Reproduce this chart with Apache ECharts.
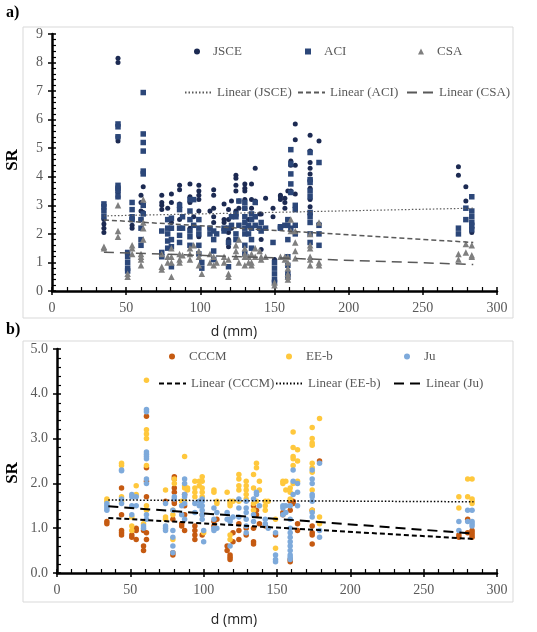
<!DOCTYPE html>
<html>
<head>
<meta charset="utf-8">
<script src="https://cdn.jsdelivr.net/npm/echarts@6/dist/echarts.min.js"></script>
<style>
  html, body { margin: 0; padding: 0; background: #fff; }
  #chart { width: 537px; height: 632px; }
</style>
</head>
<body>
<div id="chart"></div>
<script>
// panel a) data : [d (mm), SR]
const jsce = [
  [35,2.05],[35,2.2],[35,2.35],[35,2.5],
  [44.5,8.15],[44.5,8.0],[44.5,5.4],[44.5,5.25],[44.5,3.6],[44.5,3.45],[44.5,3.3],
  [51,1.3],[54,2.5],[54,2.3],[54,2.2],
  [60,3.35],[60,3.1],[60,2.8],[60,2.5],[61.5,3.65],[61.5,2.75],
  [74,3.35],[74,3.1],[74,3.0],[74,2.85],[78,2.9],[78,2.5],
  [80.5,3.4],[80.5,3.1],[80.5,2.4],[80.5,2.2],
  [86,3.7],[86,3.55],[86,3.05],[86,2.5],
  [93,3.75],[93,3.3],[93,3.1],[93,2.2],[95.5,2.6],
  [99,3.7],[99,3.5],[99,3.35],[99,3.2],[99,2.8],[99,1.9],
  [106.5,2.8],[106.5,2.2],
  [109,3.55],[109,3.35],[109,2.9],[109,2.6],[109,2.4],
  [116,3.05],[116,2.5],[116,2.4],
  [119,2.85],[119,2.5],[119,2.05],[119,1.8],[119,1.55],[121,3.15],[121,2.2],
  [124,4.05],[124,3.95],[124,3.7],[124,3.5],[124,2.8],[126,3.15],[126,2.9],
  [130,3.75],[130,3.6],[130,3.5],[130,3.2],[130,2.9],[132.5,2.5],
  [134.5,3.75],[134.5,3.2],[134.5,2.9],[137,4.3],[137,3.15],
  [140,2.7],[141,2.7],[141,1.8],[141,1.45],[144,3.25],
  [149,2.9],[149,2.6],[150,1.1],
  [154,3.35],[154,3.3],[154,3.2],[157,3.25],[157,3.1],[157,2.9],
  [159,3.5],[159,2.5],[161,4.55],[161,4.4],[161,3.5],[161,3.45],
  [164,5.85],[164,5.3],[164,4.4],[164,3.4],
  [174,5.45],[174,4.9],[174,4.5],[174,4.3],[174,4.1],[174,3.9],[174,3.6],[174,3.2],[174,2.95],[174,2.7],
  [180,5.25],[180,2.35],
  [274,4.35],[274,4.05],[279,3.65],[279,3.15],[283,2.2],[283,2.05]
];
const aci = [
  [35,2.6],[35,2.8],[35,2.95],[35,3.05],
  [44.5,5.85],[44.5,5.75],[44.5,5.4],[44.5,3.7],[44.5,3.6],[44.5,3.5],[44.5,3.3],
  [51,1.35],[51,1.2],[51,1.0],[51,0.8],[51,0.7],
  [54,3.1],[54,2.85],[54,2.6],[54,2.5],
  [60,2.5],[60,2.2],[60,1.8],[60,1.6],
  [61.5,6.95],[61.5,5.5],[61.5,5.2],[61.5,4.9],[61.5,4.2],[61.5,4.1],[61.5,3.0],[61.5,2.7],
  [74,2.1],[74,1.35],[74,1.2],
  [78,2.5],[78,2.2],[78,2.0],[78,1.75],[78,1.5],
  [80.5,2.55],[80.5,2.2],[80.5,1.8],[80.5,1.55],[80.5,0.85],
  [86,3.0],[86,2.85],[86,2.2],[86,1.95],[86,1.7],[88,2.6],[88,2.2],
  [93,3.2],[93,2.8],[93,2.5],[93,2.1],[93,1.9],[93,1.6],[95.5,3.2],[95.5,2.3],
  [99,2.5],[99,2.2],[99,2.0],[99,1.6],[99,1.3],[101,1.0],[101,0.8],
  [106.5,2.2],[106.5,2.0],
  [109,2.1],[109,1.8],[109,1.4],[109,1.1],[111,2.0],
  [116,2.2],[116,2.1],[119,2.2],[119,1.7],[119,0.85],[121,2.6],[121,2.3],
  [124,2.7],[124,2.6],[124,2.0],[124,1.8],[126,3.15],[126,2.3],
  [130,3.1],[130,2.9],[130,2.6],[130,2.4],[130,2.2],[130,2.0],[130,1.6],[130,1.3],
  [132.5,2.3],[132.5,2.0],
  [134.5,2.7],[134.5,2.5],[134.5,2.2],[134.5,1.8],[134.5,1.5],
  [137,3.1],[137,2.6],[137,2.3],[140,2.2],[141,2.4],[141,2.1],[144,2.2],
  [149,1.7],[150,1.0],[150,0.8],[150,0.6],[150,0.4],[150,0.3],
  [154,2.25],[154,2.2],[157,2.3],
  [159,2.5],[159,2.3],[159,1.8],[159,1.2],[159,0.9],[159,0.6],[159,0.5],
  [161,4.95],[161,4.45],[161,4.1],[161,3.75],[161,3.45],[161,2.2],
  [164,3.0],[164,2.85],[164,2.3],[164,2.0],
  [174,4.85],[174,3.9],[174,3.8],[174,3.5],[174,3.3],[174,2.75],[174,2.6],[174,2.4],[174,2.0],[174,1.7],
  [180,4.5],[180,2.3],[180,2.0],[180,1.6],
  [274,2.2],[274,2.0],[279,2.9],[279,2.5],
  [283,3.3],[283,2.8],[283,2.6],[283,2.4],[283,2.3],[283,2.15]
];
const csa = [
  [35,1.5],[35,1.55],[44.5,3.0],[44.5,2.1],[44.5,1.9],
  [51,0.6],[51,0.5],[54,1.6],[54,1.5],[54,1.3],
  [60,1.3],[60,1.2],[60,1.1],[60,0.9],[61.5,3.2],[61.5,2.4],[61.5,2.2],[61.5,1.8],
  [74,1.3],[74,0.85],[74,0.75],[78,1.0],[78,1.2],
  [80.5,1.5],[80.5,1.2],[80.5,1.0],[80.5,0.5],
  [86,1.3],[86,1.1],[86,1.0],[88,1.25],
  [93,1.5],[93,1.3],[93,1.1],[95.5,1.6],
  [99,1.4],[99,1.2],[99,0.9],[101,0.6],
  [106.5,1.3],[106.5,1.0],[109,1.2],[109,0.9],[111,1.0],
  [116,1.2],[116,1.0],[119,1.1],[119,0.6],[119,0.5],
  [124,1.6],[124,1.4],[124,1.2],[126,1.8],[126,1.0],
  [130,1.5],[130,1.3],[130,1.2],[130,0.9],[132.5,1.2],[132.5,1.0],
  [134.5,1.3],[134.5,1.0],[134.5,0.9],[137,1.5],[137,1.2],
  [140,1.4],[141,1.2],[141,1.1],[144,1.2],
  [150,0.3],[150,0.2],[154,1.2],[157,1.2],[157,1.1],
  [159,1.2],[159,1.0],[159,0.8],[159,0.6],[159,0.5],[159,0.4],
  [161,2.5],[161,2.1],[164,2.1],[164,1.7],[164,1.4],[164,1.15],
  [174,2.0],[174,1.6],[174,1.5],[174,1.2],[174,1.1],[174,0.9],
  [180,2.4],[180,1.0],[180,0.9],
  [274,1.3],[274,1.1],[279,1.65],[279,1.35],[283,1.6],[283,1.25],[283,1.2]
];
// trend line end points
const trendX = [35, 284];
const trendJSCE = [2.63, 2.9];
const trendACI = [2.49, 1.7];
const trendCSA = [1.36, 0.93];

// panel b) data : [d (mm), SR]
const cccm = [
  [34,1.15],[34,1.1],[44,1.9],[44,1.3],[44,0.95],[44,0.9],[44,0.85],
  [51,0.85],[51,0.8],[54,1.0],[54,0.95],[54,0.75],
  [59,0.6],[59,0.5],[59,0.95],
  [61,3.5],[61,2.35],[61,2.05],[61,1.7],[61,0.9],[61,0.75],
  [74,1.6],[79,0.4],[79,0.45],[79,1.2],
  [80,2.15],[80,2.1],[80,1.9],[80,1.8],[80,1.6],[80,1.55],
  [85,1.05],[85,1.1],[87,1.75],[87,1.5],[87,1.3],[87,0.95],
  [94,1.05],[94,0.95],[94,0.85],[94,0.75],[99,1.3],[99,0.85],
  [107,1.15],[107,1.05],[109,1.2],
  [116,0.6],[116,0.5],[118,0.4],[118,0.3],[118,0.35],[120,0.9],[120,0.7],
  [124,1.1],[124,0.95],[124,0.75],[129,1.0],[129,0.85],
  [134,1.5],[134,1.0],[134,0.7],[134,0.65],[136,1.4],[136,1.3],[138,1.1],[142,1.05],
  [149,0.85],[154,1.35],[154,1.3],
  [159,0.25],[159,0.3],[159,1.6],[159,1.4],[161,1.6],[161,1.55],[164,1.1],[164,0.95],
  [174,1.05],[174,0.9],[174,0.85],[174,0.65],[174,1.4],[179,2.5],
  [274,0.85],[274,0.8],[280,1.2],[280,0.9],[283,0.95],[283,0.9],[283,0.85],[283,0.8]
];
const eeb = [
  [34,1.65],[34,1.6],[44,2.45],[44,2.4],[44,1.7],[44,1.6],
  [51,1.25],[51,1.05],[51,0.95],[54,1.95],[54,1.75],[59,1.1],
  [61,4.3],[61,3.2],[61,3.1],[61,3.0],[61,2.4],[61,1.5],[61,1.4],
  [74,1.85],[74,1.25],[74,1.2],[79,1.3],[79,1.4],[79,0.75],[80,2.1],[80,2.0],
  [85,1.6],[87,2.6],[87,1.95],[87,1.9],[87,1.6],[89,1.9],[89,1.85],
  [94,2.05],[94,1.9],[94,1.8],[94,1.7],[97,2.05],[97,1.95],
  [99,2.15],[99,2.05],[99,1.9],[99,1.8],[99,1.7],[100,0.9],
  [107,1.85],[107,1.8],[109,1.6],[109,1.55],[116,1.8],
  [118,1.6],[118,1.55],[118,1.5],[118,0.85],[118,0.75],[120,1.6],
  [124,2.2],[124,2.1],[124,1.95],[124,1.85],[124,1.6],
  [129,2.05],[129,1.95],[129,1.85],[129,1.75],[129,1.65],
  [134,2.2],[134,1.9],[134,1.55],[134,1.4],[136,2.45],[136,2.35],[136,1.6],
  [138,2.05],[138,1.85],[142,1.6],[142,1.5],[142,1.4],[144,1.6],
  [149,0.55],[149,1.2],[154,2.05],[154,2.0],[156,2.05],[156,1.85],
  [159,1.9],[159,1.8],[159,1.65],
  [161,3.15],[161,2.8],[161,2.6],[161,2.55],[161,2.4],[161,2.0],
  [164,2.75],[164,2.5],[164,2.05],
  [174,3.25],[174,3.0],[174,2.9],[174,2.85],[174,2.45],[174,2.35],[174,2.25],[174,1.85],[174,1.4],
  [179,3.45],[179,1.25],[179,1.1],
  [274,1.7],[274,1.45],[280,2.1],[280,1.7],[283,2.1],[283,1.65],[283,1.6],[283,1.55]
];
const ju = [
  [34,1.55],[34,1.5],[34,1.45],[34,1.4],[44,2.3],[44,2.28],[44,1.65],[44,1.55],
  [51,1.75],[51,1.7],[51,1.5],[51,1.3],[54,1.7],[54,1.5],[59,1.05],[59,1.0],
  [61,3.65],[61,3.6],[61,2.7],[61,2.65],[61,2.6],[61,2.55],[61,2.1],[61,2.0],[61,1.3],[61,1.2],
  [74,1.55],[74,1.05],[74,1.0],[74,0.95],
  [79,1.4],[79,0.95],[79,0.8],[79,0.6],[79,0.45],[80,1.7],[80,1.65],
  [85,1.5],[85,1.3],[87,2.1],[87,2.0],[87,1.75],[87,1.7],[87,1.55],[87,1.2],
  [94,1.55],[94,1.35],[97,1.6],[97,1.5],
  [99,1.65],[99,1.6],[99,1.5],[99,1.4],[99,1.3],[99,1.2],[100,0.95],[100,0.7],
  [107,1.45],[107,1.2],[107,1.0],[107,0.95],[109,1.35],[109,1.0],
  [116,1.35],[116,1.2],[118,1.2],[118,1.15],[118,0.6],[120,1.25],
  [124,1.65],[124,1.45],[124,1.25],
  [129,1.6],[129,1.45],[129,1.35],[129,1.2],[129,1.05],[129,0.9],
  [134,1.65],[134,1.3],[134,1.15],[136,1.8],[136,1.75],[138,1.5],
  [142,1.2],[142,1.1],[144,1.0],
  [149,0.9],[149,0.4],[149,0.3],[149,0.25],[154,1.5],[154,1.45],[154,1.3],[156,1.5],[156,1.35],
  [159,1.5],[159,1.2],[159,1.0],[159,0.9],[159,0.8],[159,0.7],[159,0.6],[159,0.5],[159,0.4],[159,0.35],[159,0.3],
  [161,2.3],[161,2.05],[161,1.75],[164,2.0],[164,1.8],[164,1.5],
  [174,2.3],[174,2.1],[174,2.0],[174,1.75],[174,1.7],[174,1.6],[174,1.35],[174,1.25],
  [179,2.45],[179,0.95],[179,0.8],
  [274,1.15],[274,0.95],[280,1.4],[280,1.15],[283,1.4],[283,1.15],[283,1.1],[283,1.05]
];
const trendCCCM = [1.23, 0.76];
const trendEEb = [1.63, 1.59];
const trendJu = [1.49, 0.88];

const serif = 'Liberation Serif';
const tickGray = '#595959';

function pairs(xs, ys) {
  return xs.map((x, i) => [x, ys[i]]);
}

// two axes per direction so major ticks cross and minor ticks sit inside
function xAxes(grid) {
  return [
    {
      gridIndex: grid, type: 'value', min: 0, max: 300, interval: 50,
      axisLine: { show: true, lineStyle: { color: '#000', width: 2.5 } },
      axisTick: { show: true, length: 4, lineStyle: { color: '#000', width: 1.5 } },
      axisLabel: { margin: 10, color: tickGray, fontFamily: serif, fontSize: 14 },
      splitLine: { show: false }
    },
    {
      gridIndex: grid, type: 'value', min: 0, max: 300, interval: 50, position: 'bottom',
      axisLine: { show: false },
      axisTick: { show: true, inside: true, length: 4, lineStyle: { color: '#000', width: 1.5 } },
      minorTick: { show: true, splitNumber: 5, length: 4, lineStyle: { color: '#000', width: 1.2 } },
      axisLabel: { show: false },
      splitLine: { show: false }
    }
  ];
}
function yAxes(grid, max, interval, fmt) {
  return [
    {
      gridIndex: grid, type: 'value', min: 0, max: max, interval: interval,
      axisLine: { show: true, lineStyle: { color: '#000', width: 2.5 } },
      axisTick: { show: true, length: 4, lineStyle: { color: '#000', width: 1.5 } },
      axisLabel: { margin: 9, color: tickGray, fontFamily: serif, fontSize: 14, formatter: fmt },
      splitLine: { show: false }
    },
    {
      gridIndex: grid, type: 'value', min: 0, max: max, interval: interval, position: 'left',
      axisLine: { show: false },
      axisTick: { show: true, inside: true, length: 4, lineStyle: { color: '#000', width: 1.5 } },
      minorTick: { show: true, splitNumber: 5, length: 4, lineStyle: { color: '#000', width: 1.2 } },
      axisLabel: { show: false },
      splitLine: { show: false }
    }
  ];
}

function scatter(name, data, axis, symbol, size, color) {
  return {
    name: name, type: 'scatter', xAxisIndex: axis, yAxisIndex: axis,
    data: data, symbol: symbol, symbolSize: size,
    itemStyle: { color: color, opacity: 1 },
    emphasis: { disabled: true }, animation: false
  };
}
function trend(name, ys, axis, color, width, dash) {
  return {
    name: name, type: 'line', xAxisIndex: axis, yAxisIndex: axis,
    data: pairs(trendX, ys), symbol: 'none', z: 5,
    lineStyle: { color: color, width: width, type: dash },
    emphasis: { disabled: true }, animation: false
  };
}

function legendItem(name, left, top, isLine, padLeft) {
  return {
    data: [name], left: left, top: top, padding: 0, itemGap: 0,
    itemWidth: isLine ? 27 : 6, itemHeight: isLine ? 8 : 6,
    selectedMode: false,
    itemStyle: isLine ? { opacity: 0 } : {},
    textStyle: { color: tickGray, fontFamily: serif, fontSize: 13, padding: [0, 0, 0, padLeft] }
  };
}

const chart = echarts.init(document.getElementById('chart'), null, { renderer: 'canvas' });

const option = {
  backgroundColor: '#fff',
  animation: false,
  grid: [
    { left: 52, top: 34, width: 445, height: 257 },
    { left: 57, top: 349, width: 440, height: 224 }
  ],
  xAxis: [...xAxes(0), ...xAxes(1)],
  yAxis: [
    ...yAxes(0, 9, 1, v => String(v)),
    ...yAxes(1, 5, 1, v => v.toFixed(1))
  ],
  legend: [
    legendItem('JSCE', 194, 45, false, 8),
    legendItem('ACI', 305, 45, false, 8),
    legendItem('CSA', 418, 45, false, 8),
    legendItem('Linear (JSCE)', 184, 86, true, 0),
    legendItem('Linear (ACI)', 297, 86, true, 0),
    legendItem('Linear (CSA)', 406, 86, true, 0),
    legendItem('CCCM', 169, 350, false, 9),
    legendItem('EE-b', 286, 350, false, 9),
    legendItem('Ju', 404, 350, false, 9),
    legendItem('Linear (CCCM)', 158, 377, true, 0),
    legendItem('Linear (EE-b)', 275, 377, true, 0),
    legendItem('Linear (Ju)', 393, 377, true, 0)
  ],
  series: [
    scatter('JSCE', jsce, 0, 'circle', 5, '#1c2a52'),
    scatter('ACI', aci, 0, 'rect', 5.5, '#2c4779'),
    scatter('CSA', csa, 0, 'triangle', 6.5, '#7f7f7f'),
    trend('Linear (JSCE)', trendJSCE, 0, '#595959', 1.2, [1.5, 2]),
    trend('Linear (ACI)', trendACI, 0, '#595959', 1.5, [5, 3]),
    trend('Linear (CSA)', trendCSA, 0, '#595959', 1.5, [10, 6]),
    scatter('CCCM', cccm, 2, 'circle', 5.5, '#c55a11'),
    scatter('EE-b', eeb, 2, 'circle', 5.5, '#ffc83d'),
    scatter('Ju', ju, 2, 'circle', 5.5, '#7eaadb'),
    trend('Linear (CCCM)', trendCCCM, 2, '#000', 2, [5, 3]),
    trend('Linear (EE-b)', trendEEb, 2, '#000', 1.5, [1.5, 2]),
    trend('Linear (Ju)', trendJu, 2, '#000', 2, [10, 6])
  ],
  graphic: [
    { type: 'rect', shape: { x: 23, y: 27, width: 490, height: 291 }, style: { fill: null, stroke: '#d9d9d9', lineWidth: 1 }, z: -1 },
    { type: 'rect', shape: { x: 23, y: 341, width: 490, height: 261 }, style: { fill: null, stroke: '#d9d9d9', lineWidth: 1 }, z: -1 },
    { type: 'text', left: 6, top: 5, style: { text: 'a)', font: 'bold 16px "Liberation Serif"', fill: '#000' } },
    { type: 'text', left: 6, top: 322, style: { text: 'b)', font: 'bold 16px "Liberation Serif"', fill: '#000' } },
    { type: 'text', x: 13, y: 160, rotation: Math.PI / 2, style: { text: 'SR', font: 'bold 17px "Liberation Serif"', fill: '#000', align: 'center', verticalAlign: 'middle' } },
    { type: 'text', x: 13, y: 473, rotation: Math.PI / 2, style: { text: 'SR', font: 'bold 17px "Liberation Serif"', fill: '#000', align: 'center', verticalAlign: 'middle' } },
    { type: 'text', x: 234, y: 332, style: { text: 'd (mm)', font: '14px "Open Sans"', fill: '#222', align: 'center', verticalAlign: 'middle' } },
    { type: 'text', x: 234, y: 620, style: { text: 'd (mm)', font: '14px "Open Sans"', fill: '#222', align: 'center', verticalAlign: 'middle' } }
  ]
};

chart.setOption(option);
</script>
</body>
</html>
